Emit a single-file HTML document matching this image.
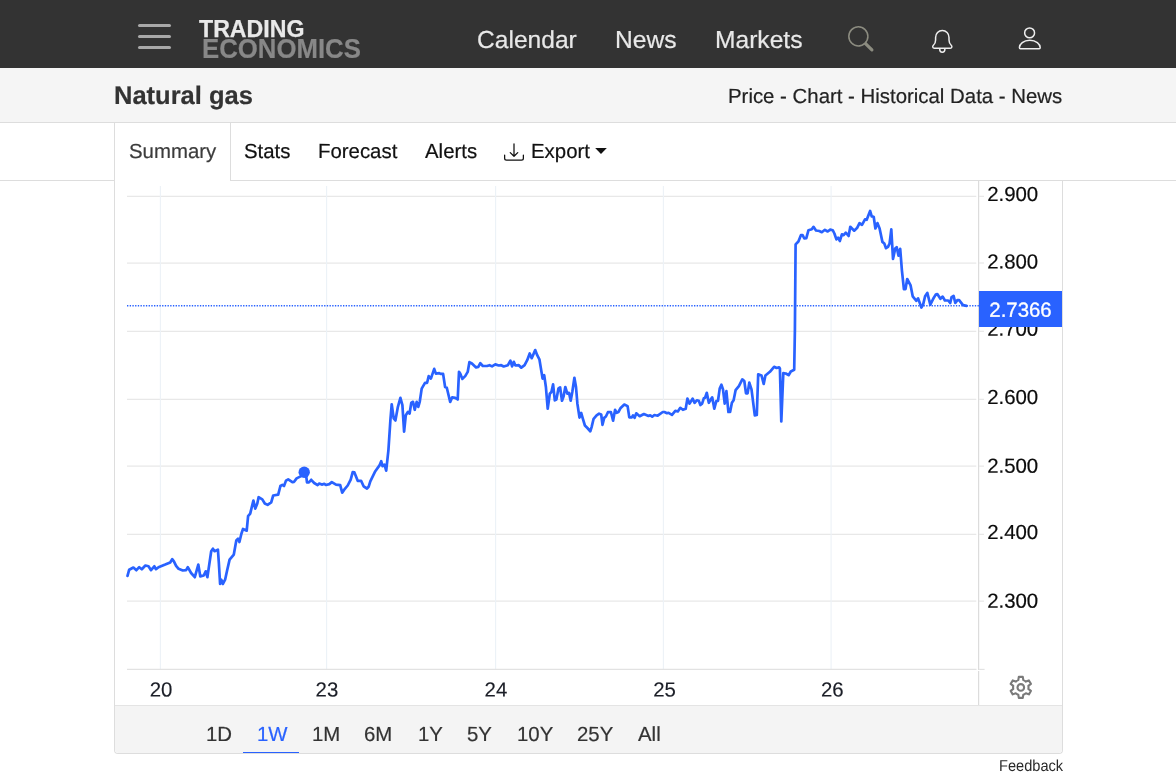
<!DOCTYPE html>
<html lang="en">
<head>
<meta charset="utf-8">
<title>Natural gas - Price - Chart - Historical Data - News</title>
<style>
html,body{margin:0;padding:0;}
body{width:1176px;height:777px;overflow:hidden;background:#fff;font-family:"Liberation Sans",Arial,sans-serif;color:#212529;position:relative;}
.abs{position:absolute;white-space:nowrap;}
.tx{transform:rotate(0.03deg);-webkit-text-stroke:0.2px;}
#nav{left:0;top:0;width:1176px;height:68px;background:#333;}
#sub{left:0;top:68px;width:1176px;height:54px;background:#f5f5f5;border-bottom:1px solid #ddd;}
#tabs{left:0;top:123px;width:1176px;height:57px;background:#fff;border-bottom:1px solid #ddd;}
#panel{left:114px;top:181px;width:947px;height:572px;border:1px solid #ddd;border-top:none;border-radius:0 0 4px 4px;}
#active{left:114px;top:123px;width:115px;height:58px;background:#fff;border-left:1px solid #ddd;border-right:1px solid #ddd;}
#range{left:115px;top:705px;width:947px;height:48px;background:#f4f4f4;border-top:1px solid #e4e4e4;box-sizing:border-box;border-radius:0 0 4px 4px;}
.navt{color:#e8e8e8;font-size:24.6px;line-height:30px;top:25.4px;}
.tab{font-size:20.4px;line-height:24px;top:139.1px;color:#111;}
.rg{font-size:20.4px;line-height:24px;top:721.8px;color:#333;}
.bar{left:138px;width:33px;height:3px;border-radius:1.5px;background:#a8a8a8;}
svg.chart{position:absolute;left:0;top:0;}
svg.chart text.ax{font-family:"Liberation Sans",Arial,sans-serif;font-size:20.4px;fill:#0c0c0c;stroke:#0c0c0c;stroke-width:0.2px;}
svg.chart text.axx{fill:#1b1e27;stroke:#1b1e27;stroke-width:0.15px;}
svg.ic{position:absolute;overflow:visible;}
</style>
</head>
<body>
<div id="nav" class="abs"></div>
<div class="abs bar" style="top:24px"></div>
<div class="abs bar" style="top:35px"></div>
<div class="abs bar" style="top:46px"></div>
<div class="abs" id="lg1" style="left:198.8px;top:16.9px;font-weight:bold;font-size:23.3px;line-height:24px;color:#e9e9e9;-webkit-text-stroke:0.25px #e9e9e9;transform:scaleX(0.993);transform-origin:0 0">TRADING</div>
<div class="abs" id="lg2" style="left:201.7px;top:35.5px;font-weight:bold;font-size:27px;line-height:26px;color:#888;-webkit-text-stroke:0.2px #888;transform:scaleX(0.954);transform-origin:0 0">ECONOMICS</div>
<div class="abs tx navt" id="n1" style="left:477px">Calendar</div>
<div class="abs tx navt" id="n2" style="left:615px">News</div>
<div class="abs tx navt" id="n3" style="left:714.7px">Markets</div>
<svg class="ic" id="isearch" style="left:847.5px;top:25.5px" width="25.5" height="25.5" viewBox="0 0 16 16" fill="#8c8c80"><path d="M11.742 10.344a6.5 6.5 0 1 0-1.397 1.398h-.001q.044.06.098.115l3.85 3.85a1 1 0 0 0 1.415-1.414l-3.85-3.85a1 1 0 0 0-.115-.1zM12 6.5a5.5 5.5 0 1 1-11 0 5.5 5.5 0 0 1 11 0"/></svg>
<svg class="ic" id="ibell" style="left:0;top:0" width="1176" height="68" viewBox="0 0 1176 68" fill="none" stroke="#eee" stroke-width="1.5" stroke-linejoin="round" stroke-linecap="round"><path d="M942.3 30.6C938.5 30.6 935.6 33.6 935.6 37.4L935.6 40C935.6 42.5 934.8 44 933.4 45.2C932.2 46.3 932.6 48.2 934.4 48.2L950.2 48.2C952 48.2 952.4 46.3 951.2 45.2C949.8 44 949 42.5 949 40L949 37.4C949 33.6 946.1 30.6 942.3 30.6Z"/><path d="M939.7 49C939.7 53.4 944.9 53.4 944.9 49"/></svg>
<svg class="ic" id="iperson" style="left:0;top:0" width="1176" height="68" viewBox="0 0 1176 68" fill="none" stroke="#eee" stroke-width="1.5" stroke-linejoin="round"><circle cx="1029.6" cy="32.9" r="4.95"/><path d="M1020.4 48.8C1019.6 48.8 1019.4 48.2 1019.4 47.6C1019.4 44 1023.5 40.2 1029.8 40.2C1036.1 40.2 1040.2 44 1040.2 47.6C1040.2 48.2 1040 48.8 1039.2 48.8Z"/></svg>

<div id="sub" class="abs"></div>
<div class="abs tx" id="title" style="left:113.9px;top:79.8px;font-weight:bold;font-size:25.5px;line-height:30px;color:#333">Natural gas</div>
<div class="abs tx" id="crumb" style="left:728px;top:84px;font-size:20.4px;line-height:24px;color:#222">Price - Chart - Historical Data - News</div>

<div id="tabs" class="abs"></div>
<div id="active" class="abs"></div>
<div class="abs tx tab" id="t1" style="left:128.5px;color:#3c3c3c">Summary</div>
<div class="abs tx tab" id="t2" style="left:243.9px">Stats</div>
<div class="abs tx tab" id="t3" style="left:318.1px">Forecast</div>
<div class="abs tx tab" id="t4" style="left:425px">Alerts</div>
<svg class="ic" id="idl" style="left:504.4px;top:142.3px" width="20" height="20" viewBox="0 0 16 16" fill="#111"><path d="M.5 9.900a.5.5 0 0 1 .5.5v2.500a1 1 0 0 0 1 1h12a1 1 0 0 0 1-1v-2.500a.5.5 0 0 1 1 0v2.500a2 2 0 0 1-2 2H2a2 2 0 0 1-2-2v-2.500a.5.5 0 0 1 .5-.5"/><path d="M7.646 11.854a.5.5 0 0 0 .708 0l3-3a.5.5 0 0 0-.708-.708L8.500 10.293V1.500a.5.5 0 0 0-1 0v8.793L5.354 8.146a.5.5 0 1 0-.708.708z"/></svg>
<div class="abs tx tab" id="t5" style="left:531px">Export</div>
<svg class="ic" id="caret" style="left:0;top:0" width="1176" height="200" viewBox="0 0 1176 200"><polygon points="595.2,148.1 606.8,148.1 601,154" fill="#111"/></svg>

<div id="panel" class="abs"></div>
<div id="range" class="abs"></div>
<svg class="chart" width="1176" height="777" viewBox="0 0 1176 777">
<line x1="127" y1="196.35" x2="976.3" y2="196.35" stroke="#e8e8e8" stroke-width="1.25"/>
<line x1="979.2" y1="196.35" x2="984" y2="196.35" stroke="#e8e8e8" stroke-width="1.25"/>
<line x1="127" y1="263.0" x2="976.3" y2="263.0" stroke="#e8e8e8" stroke-width="1.25"/>
<line x1="979.2" y1="263.0" x2="984" y2="263.0" stroke="#e8e8e8" stroke-width="1.25"/>
<line x1="127" y1="331.3" x2="976.3" y2="331.3" stroke="#e8e8e8" stroke-width="1.25"/>
<line x1="979.2" y1="331.3" x2="984" y2="331.3" stroke="#e8e8e8" stroke-width="1.25"/>
<line x1="127" y1="399.35" x2="976.3" y2="399.35" stroke="#e8e8e8" stroke-width="1.25"/>
<line x1="979.2" y1="399.35" x2="984" y2="399.35" stroke="#e8e8e8" stroke-width="1.25"/>
<line x1="127" y1="466.15" x2="976.3" y2="466.15" stroke="#e8e8e8" stroke-width="1.25"/>
<line x1="979.2" y1="466.15" x2="984" y2="466.15" stroke="#e8e8e8" stroke-width="1.25"/>
<line x1="127" y1="534.35" x2="976.3" y2="534.35" stroke="#e8e8e8" stroke-width="1.25"/>
<line x1="979.2" y1="534.35" x2="984" y2="534.35" stroke="#e8e8e8" stroke-width="1.25"/>
<line x1="127" y1="601.15" x2="976.3" y2="601.15" stroke="#e8e8e8" stroke-width="1.25"/>
<line x1="979.2" y1="601.15" x2="984" y2="601.15" stroke="#e8e8e8" stroke-width="1.25"/>
<line x1="160.4" y1="186" x2="160.4" y2="669" stroke="#ecf2f7" stroke-width="1.1"/>
<line x1="326.6" y1="186" x2="326.6" y2="669" stroke="#ecf2f7" stroke-width="1.1"/>
<line x1="495.6" y1="186" x2="495.6" y2="669" stroke="#ecf2f7" stroke-width="1.1"/>
<line x1="663.4" y1="186" x2="663.4" y2="669" stroke="#ecf2f7" stroke-width="1.1"/>
<line x1="831.1" y1="186" x2="831.1" y2="669" stroke="#ecf2f7" stroke-width="1.1"/>
<line x1="127" y1="669.4" x2="976.5" y2="669.4" stroke="#e2e2e2" stroke-width="1.2"/><line x1="979.2" y1="669.4" x2="984.6" y2="669.4" stroke="#e2e2e2" stroke-width="1.2"/>
<line x1="978.6" y1="181" x2="978.6" y2="669.9" stroke="#dcdcdc" stroke-width="1.2"/><line x1="978.6" y1="670.9" x2="978.6" y2="705" stroke="#dcdcdc" stroke-width="1.2"/>
<line x1="127" y1="305.8" x2="979" y2="305.8" stroke="#2962ff" stroke-width="1.4" stroke-dasharray="1.35 1.35"/>
<path d="M127.5 575.9 L129.2 569.7 L133.4 567.5 L136.4 570.2 L139.2 567.2 L141.8 569.3 L145.4 565.5 L148.5 566.3 L151.0 570.2 L154.3 566.3 L156.0 569.2 L158.5 567.2 L165.2 564.6 L170.2 562.5 L172.2 559.1 L173.9 561.3 L176.1 565.8 L178.6 568.8 L182.8 570.5 L186.1 570.2 L187.8 567.2 L191.1 573.0 L194.8 577.2 L198.3 564.6 L200.3 576.4 L203.7 575.5 L205.7 571.3 L207.4 577.2 L211.2 551.2 L212.9 548.7 L214.6 551.2 L217.9 549.6 L218.8 562.1 L220.1 583.9 L221.3 579.7 L222.9 583.9 L225.1 579.7 L227.1 570.5 L229.6 559.6 L233.8 554.6 L236.3 540.4 L238.0 538.7 L239.4 542.0 L241.4 533.7 L243.0 529.0 L246.7 530.7 L248.1 516.1 L250.2 513.6 L253.4 500.5 L255.3 508.6 L257.3 503.5 L258.6 497.2 L262.3 499.4 L264.8 503.5 L267.6 504.9 L271.2 502.4 L273.2 495.5 L278.2 494.7 L280.4 486.0 L282.4 484.8 L284.0 486.0 L286.0 480.6 L288.2 479.3 L292.4 482.1 L294.1 481.8 L296.6 478.4 L301.6 475.9 L304.2 472.2 L306.3 477.0 L307.0 482.3 L308.9 482.3 L311.2 479.8 L314.2 483.0 L317.6 485.1 L319.2 483.5 L321.8 484.6 L324.3 483.8 L325.9 485.0 L329.3 484.1 L331.8 482.1 L336.0 484.6 L340.2 485.1 L342.2 492.7 L344.9 488.8 L347.7 485.5 L350.7 479.6 L352.7 472.1 L354.4 472.4 L357.7 480.8 L361.1 480.8 L363.6 486.3 L367.0 488.5 L368.6 486.8 L370.3 481.3 L375.3 471.2 L379.5 465.4 L381.2 461.2 L382.5 466.2 L384.5 464.6 L386.2 470.7 L388.4 450.3 L390.4 420.2 L391.7 404.3 L393.7 418.5 L395.4 420.5 L397.9 406.8 L400.4 397.9 L402.4 405.1 L404.1 431.6 L405.8 415.2 L408.0 411.8 L409.6 413.5 L411.3 402.6 L413.0 401.8 L414.7 409.8 L416.7 401.8 L418.3 406.9 L419.7 402.0 L421.7 388.6 L425.0 382.8 L427.1 382.8 L428.7 376.1 L430.9 378.6 L434.2 368.9 L435.9 373.6 L439.3 373.2 L441.0 373.9 L443.1 373.9 L445.1 387.0 L446.8 387.8 L450.2 402.0 L452.2 397.3 L455.2 397.8 L457.7 399.5 L459.0 371.9 L460.2 373.6 L462.4 378.9 L465.2 376.1 L467.7 371.9 L469.4 362.2 L471.9 363.5 L476.1 367.4 L478.3 366.9 L480.3 363.2 L482.8 366.0 L487.0 366.0 L489.5 365.2 L492.0 366.4 L495.3 364.4 L498.7 365.5 L501.2 365.2 L503.7 366.5 L507.9 365.2 L510.4 360.7 L512.1 366.4 L513.8 361.8 L515.4 365.5 L518.8 365.2 L521.3 367.7 L524.6 365.2 L527.2 360.2 L529.7 353.5 L531.7 358.2 L535.2 350.1 L537.2 355.2 L539.4 359.3 L542.6 378.6 L544.2 375.2 L545.9 387.0 L547.7 408.7 L549.8 393.7 L551.4 392.0 L553.1 384.4 L554.8 400.3 L556.4 399.5 L558.5 388.3 L560.1 387.3 L562.0 400.7 L563.6 396.2 L565.3 387.0 L567.3 393.7 L569.0 392.8 L570.7 400.7 L572.3 392.0 L574.4 377.8 L576.0 387.0 L577.4 403.7 L579.5 417.6 L581.2 412.9 L582.9 418.8 L584.9 425.5 L587.4 428.0 L590.3 431.3 L591.6 427.1 L593.6 418.8 L596.6 415.4 L599.1 413.7 L601.2 414.5 L602.5 424.8 L604.2 417.9 L605.9 416.5 L607.9 412.2 L610.9 412.0 L613.1 420.7 L615.1 409.8 L616.7 412.8 L618.4 412.0 L620.4 408.3 L624.3 404.5 L627.6 406.1 L629.3 417.4 L631.8 417.4 L633.0 415.3 L634.6 417.9 L636.3 413.3 L639.7 416.2 L643.9 414.0 L648.5 415.9 L650.2 415.3 L652.2 416.7 L654.4 415.0 L657.7 415.7 L662.8 412.0 L664.4 412.0 L667.0 413.2 L668.6 412.8 L672.0 414.8 L675.3 410.8 L677.8 411.5 L680.3 407.8 L682.9 409.8 L685.7 408.7 L687.4 398.6 L689.6 403.6 L692.6 398.6 L694.6 402.8 L696.8 400.3 L698.8 400.8 L700.4 405.0 L702.1 403.6 L703.8 398.3 L705.1 397.8 L706.8 392.8 L708.8 402.8 L712.2 397.3 L714.3 408.7 L716.3 401.1 L718.0 400.8 L719.7 388.6 L721.4 384.7 L723.0 389.4 L724.7 403.6 L726.4 391.1 L728.4 412.0 L730.1 412.0 L731.9 402.8 L733.6 400.3 L735.6 390.2 L738.9 386.1 L742.3 379.4 L744.3 381.0 L746.0 393.3 L747.6 393.3 L749.3 382.7 L751.5 389.4 L754.8 415.3 L756.8 415.0 L758.2 374.3 L761.5 375.5 L763.7 383.9 L765.4 375.5 L769.9 371.8 L774.1 366.8 L776.6 368.0 L779.1 367.3 L779.9 368.5 L781.3 421.5 L783.3 373.2 L785.8 373.5 L788.6 375.2 L790.8 371.5 L794.2 369.8 L794.9 330.0 L795.6 244.4 L798.4 241.5 L800.9 235.2 L802.6 235.2 L804.3 238.5 L806.3 238.2 L808.5 230.2 L811.8 229.3 L813.5 226.8 L816.0 230.5 L819.3 231.0 L821.8 232.2 L824.9 229.8 L827.7 231.5 L830.2 229.6 L832.7 230.2 L834.4 233.5 L836.4 239.4 L838.1 237.7 L839.8 241.0 L841.9 234.3 L843.6 235.2 L845.8 232.7 L848.6 236.0 L850.3 226.8 L854.2 230.7 L857.0 228.1 L859.5 223.1 L862.0 224.8 L865.0 219.3 L866.7 219.8 L870.1 210.9 L871.7 216.4 L873.7 216.8 L875.4 228.5 L877.4 223.1 L879.6 228.5 L882.4 241.9 L884.3 243.5 L886.0 248.2 L888.0 246.9 L889.6 243.5 L891.3 229.3 L893.0 258.9 L895.2 248.6 L896.7 247.2 L898.5 255.6 L900.2 248.9 L901.9 270.3 L903.9 289.1 L905.5 289.1 L907.2 279.0 L910.6 285.4 L912.7 296.3 L916.4 300.8 L918.1 298.4 L921.4 307.5 L923.1 304.6 L925.1 296.3 L927.3 292.9 L930.3 304.6 L933.2 298.8 L935.7 294.6 L937.3 294.1 L940.4 298.8 L942.7 296.6 L944.9 300.5 L948.2 300.5 L950.2 303.0 L951.6 297.1 L953.6 295.9 L955.3 303.0 L957.4 300.1 L959.1 300.1 L963.0 305.1 L966.6 305.8" fill="none" stroke="#2962ff" stroke-width="2.7" stroke-linejoin="round" stroke-linecap="round"/>
<circle cx="304.2" cy="472.2" r="5.7" fill="#2962ff"/>
<text x="987.2" y="200.9" transform="rotate(0.03 987 201)" class="ax">2.900</text>
<text x="987.2" y="268.6" transform="rotate(0.03 987 269)" class="ax">2.800</text>
<text x="987.2" y="335.7" transform="rotate(0.03 987 336)" class="ax">2.700</text>
<text x="987.2" y="403.9" transform="rotate(0.03 987 404)" class="ax">2.600</text>
<text x="987.2" y="472.8" transform="rotate(0.03 987 473)" class="ax">2.500</text>
<text x="987.2" y="538.9" transform="rotate(0.03 987 539)" class="ax">2.400</text>
<text x="987.2" y="607.8" transform="rotate(0.03 987 608)" class="ax">2.300</text>
<text x="161.05" y="696.45" transform="rotate(0.03 161 697)" class="ax axx" text-anchor="middle">20</text>
<text x="326.95" y="696.45" transform="rotate(0.03 327 697)" class="ax axx" text-anchor="middle">23</text>
<text x="495.95" y="696.45" transform="rotate(0.03 496 697)" class="ax axx" text-anchor="middle">24</text>
<text x="664.55" y="696.45" transform="rotate(0.03 664 697)" class="ax axx" text-anchor="middle">25</text>
<text x="832.25" y="696.45" transform="rotate(0.03 832 697)" class="ax axx" text-anchor="middle">26</text>
<rect x="979" y="291" width="83" height="36" fill="#2962ff"/>
<text x="1020.5" y="316.7" transform="rotate(0.03 1020 316)" class="ax" text-anchor="middle" fill="#fff" style="fill:#fff;stroke:#fff;stroke-width:0.3px">2.7366</text>
</svg>
<svg class="ic" id="igear" style="left:0;top:0" width="1176" height="777" viewBox="0 0 1176 777" fill="none" stroke="#7a7a7a" stroke-width="2.1" stroke-linejoin="round"><path d="M1018.30 680.12L1018.80 676.90 L1022.80 676.90 L1023.30 680.12A7.70 7.70 0 0 1 1025.86 681.59L1028.89 680.42 L1030.89 683.88 L1028.36 685.92A7.70 7.70 0 0 1 1028.36 688.88L1030.89 690.92 L1028.89 694.38 L1025.86 693.21A7.70 7.70 0 0 1 1023.30 694.68L1022.80 697.90 L1018.80 697.90 L1018.30 694.68A7.70 7.70 0 0 1 1015.74 693.21L1012.71 694.38 L1010.71 690.92 L1013.24 688.88A7.70 7.70 0 0 1 1013.24 685.92L1010.71 683.88 L1012.71 680.42 L1015.74 681.59A7.70 7.70 0 0 1 1018.30 680.12 Z"/><circle cx="1020.8" cy="687.4" r="3.3"/></svg>

<div class="abs tx rg" id="r1" style="left:205.7px">1D</div>
<div class="abs tx rg" id="r2" style="left:256.5px;color:#2962ff">1W</div>
<div class="abs" id="r2u" style="left:243px;top:751.5px;width:56px;height:1.4px;background:#2962ff"></div>
<div class="abs tx rg" id="r3" style="left:311.7px">1M</div>
<div class="abs tx rg" id="r4" style="left:364.0px">6M</div>
<div class="abs tx rg" id="r5" style="left:417.7px">1Y</div>
<div class="abs tx rg" id="r6" style="left:466.9px">5Y</div>
<div class="abs tx rg" id="r7" style="left:517.1px">10Y</div>
<div class="abs tx rg" id="r8" style="left:577.1px">25Y</div>
<div class="abs tx rg" id="r9" style="left:638.1px">All</div>
<div class="abs" id="fb" style="left:999px;top:756.6px;font-size:15.8px;line-height:18px;color:#2a2a2a;transform:rotate(0.03deg) scaleX(0.924);transform-origin:0 0">Feedback</div>
</body>
</html>
